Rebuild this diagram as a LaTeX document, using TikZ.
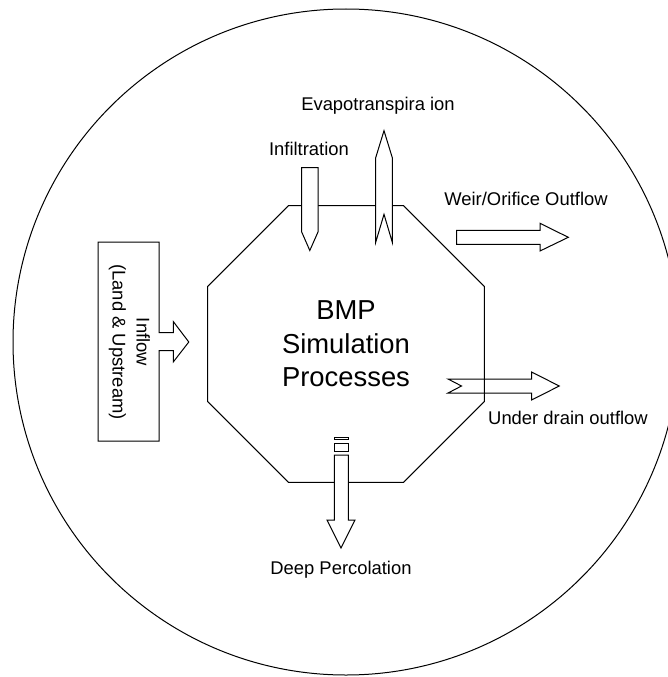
\documentclass[tikz,border=0pt]{standalone}
\usepackage{fontspec}
\setmainfont{Liberation Sans}
\usetikzlibrary{shapes.geometric}

\begin{document}
\begin{tikzpicture}[x=1pt,y=-1pt,line width=1pt,
    lbl/.style={font=\fontsize{18.4}{22}\selectfont,inner sep=0},
    blockarrow/.style={draw,fill=white,line join=miter}]
  \useasboundingbox (0,0) rectangle (668,677);
  \clip (0,0) rectangle (668,677);

  % system boundary
  \node[draw,circle,minimum size=666pt,inner sep=0] (sys) at (346,342) {};

  % BMP octagon
  \node[draw,regular polygon,regular polygon sides=8,minimum size=299.8pt,inner sep=0,
        align=center,font=\fontsize{27.4}{33.7}\selectfont] (bmp) at (346,344)
        {BMP\\Simulation\\Processes};

  % inflow box with arrow
  \draw[blockarrow] (98,242) -- (159,242) -- (159,332.5) -- (173.4,332.5) -- (173.4,321.7)
    -- (188.8,342) -- (173.4,361.8) -- (173.4,350.6) -- (159,350.6) -- (159,441)
    -- (98,441) -- cycle;
  \node[lbl,rotate=-90,align=center,font=\fontsize{18.4}{24}\selectfont] (inflow) at (129.5,342)
        {Inflow\\(Land \& Upstream)};

  % infiltration (in, top)
  \draw[blockarrow] (301.7,167.5) -- (318,167.5) -- (318,232) -- (309.8,250.5)
    -- (301.7,232) -- cycle;
  \node[lbl] (infil) at (309,149) {Infiltration};

  % evapotranspiration (out, top)
  \draw[blockarrow] (375.7,242.3) -- (375.7,157.7) -- (384,130.7) -- (392.3,157.7)
    -- (392.3,242.3) -- (384,214.3) -- cycle;
  \node[lbl] (evap) at (378,105.5) {Evapotranspira ion};

  % weir / orifice outflow
  \draw[blockarrow] (456.7,230.3) -- (540,230.3) -- (540,223.3) -- (568.3,237.3)
    -- (540,251) -- (540,244.3) -- (456.7,244.3) -- cycle;
  \node[lbl] (weir) at (526,198.6) {Weir/Orifice Outflow};

  % under drain outflow
  \draw (448,379) -- (531.5,379) -- (531.5,372) -- (559.3,386) -- (531.5,400)
    -- (531.5,393) -- (448,393) -- (461.5,386) -- cycle;
  \node[lbl] (drain) at (568,418) {Under drain outflow};

  % deep percolation
  \draw[blockarrow] (334.3,437) rectangle (348.3,439.5);
  \draw[blockarrow] (334.3,443) rectangle (348.3,451);
  \draw[blockarrow] (334.3,455) -- (348.3,455) -- (348.3,520) -- (355,520) -- (341,548)
    -- (327,520) -- (334.3,520) -- cycle;
  \node[lbl] (perc) at (341,570) {Deep Percolation};
\end{tikzpicture}
\end{document}
